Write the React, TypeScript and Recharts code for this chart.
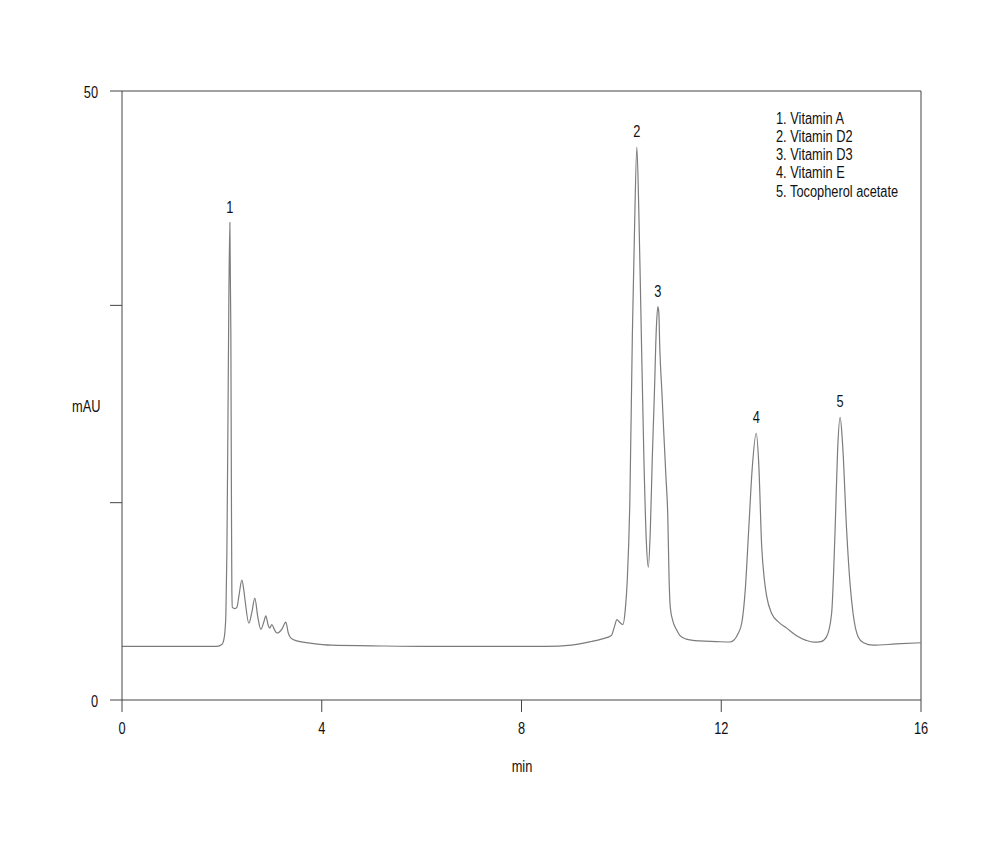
import React from "react";
import { LineChart, Line, XAxis, YAxis, ReferenceLine, ReferenceDot } from "recharts";

// retention time (min) and detector signal (mAU)
const times = [
  0, 1, 1.9, 2.0, 2.05, 2.08, 2.1, 2.12, 2.14, 2.16, 2.18, 2.19, 2.2, 2.21,
  2.26, 2.3, 2.34, 2.4, 2.44, 2.47, 2.54, 2.6, 2.66, 2.72, 2.78, 2.84, 2.88,
  2.93, 2.96, 3.0, 3.05, 3.1, 3.2, 3.28, 3.33, 3.38, 3.5, 3.8, 4.2, 5, 6, 7, 8,
  8.5, 9, 9.4, 9.6, 9.8, 9.86, 9.91, 9.96, 10.03, 10.08, 10.12, 10.17, 10.22,
  10.26, 10.31, 10.35, 10.39, 10.45, 10.5, 10.54, 10.58, 10.62, 10.66, 10.7,
  10.73, 10.75, 10.77, 10.81, 10.85, 10.89, 10.93, 10.955, 10.98, 11.03, 11.1,
  11.17, 11.3, 11.43, 11.57, 11.9, 12.17, 12.25, 12.33, 12.41, 12.48, 12.55,
  12.62, 12.7, 12.75, 12.81, 12.86, 12.91, 13.01, 13.15, 13.31, 13.5, 13.7,
  13.85, 14.0, 14.11, 14.21, 14.28, 14.33, 14.38, 14.43, 14.51, 14.58, 14.64,
  14.74, 14.85, 15.04, 15.5, 16,
];
const signal = [
  4.4, 4.4, 4.4, 4.55, 5.2, 7.0, 12, 22, 33, 39.2, 30, 18, 9, 7.6,
  7.5, 7.6, 8.5, 9.85, 9.0, 8.0, 6.3, 7.2, 8.37, 6.8, 5.8, 6.4, 6.9,
  6.1, 5.9, 6.2, 5.8, 5.5, 5.8, 6.4, 5.5, 5.1, 4.85, 4.65, 4.5, 4.45, 4.4, 4.4, 4.4,
  4.4, 4.5, 4.8, 5.0, 5.3, 6.0, 6.6, 6.4, 6.2, 7.5, 10, 16.4, 30,
  38, 45.4, 40, 32, 20, 13, 10.9, 14, 20, 25, 30.5,
  32.3, 31.8, 28.8, 25.4, 21.9, 18.5, 15, 10, 7.6, 6.5, 5.8,
  5.3, 5.0, 4.9, 4.85, 4.8, 4.76, 4.9, 5.4, 6.3, 9, 14,
  19, 21.9, 19.5, 12.6, 10, 8.5, 7.1, 6.4, 5.9, 5.3, 4.9,
  4.75, 4.8, 5.2, 7.1, 14, 20.5, 23.2, 21, 14, 9.5, 7.1,
  5.2, 4.7, 4.5, 4.6, 4.7,
];

const xTicks = [0, 4, 8, 12, 16];
const yTicks = [0, 16.2, 32.4, 50];
const yLabelled = [0, 50];

const peakNames = ["1", "2", "3", "4", "5"];
const peakTimes = [2.16, 10.31, 10.73, 12.7, 14.38];
const peakHeights = [39.2, 45.4, 32.3, 21.9, 23.2];

const legendItems = [
  "1. Vitamin A",
  "2. Vitamin D2",
  "3. Vitamin D3",
  "4. Vitamin E",
  "5. Tocopherol acetate",
];

// Arial Narrow look-alike: Liberation Sans squeezed horizontally
const font = "'Liberation Sans', Arial, sans-serif";
const squeeze = 0.8;
const axisColor = "#444";
const traceColor = "#7c7c7c";
const textColor = "#111";

const data = times.map((t, i) => ({ t, v: signal[i] }));

function NarrowText({
  x,
  y,
  anchor,
  children,
}: {
  x: number;
  y: number;
  anchor: "start" | "middle" | "end";
  children: React.ReactNode;
}) {
  return (
    <text
      transform={`translate(${x},${y}) scale(${squeeze},1)`}
      textAnchor={anchor}
      fontFamily={font}
      fontSize={16}
      fill={textColor}
    >
      {children}
    </text>
  );
}

function XTick(props: any) {
  const { x, y, payload } = props;
  return (
    <NarrowText x={x} y={y + 15} anchor="middle">
      {String(payload.value)}
    </NarrowText>
  );
}

function YTick(props: any) {
  const { x, y, payload } = props;
  if (!yLabelled.includes(payload.value)) return <g />;
  return (
    <NarrowText x={x} y={y + 7} anchor="end">
      {String(payload.value)}
    </NarrowText>
  );
}

const htmlText: React.CSSProperties = {
  position: "absolute",
  fontFamily: font,
  fontSize: 16,
  lineHeight: "18.3px",
  color: textColor,
  whiteSpace: "nowrap",
};

export default function App() {
  return (
    <div style={{ position: "relative", width: 984, height: 841 }}>
      <LineChart
        width={984}
        height={841}
        data={data}
        margin={{ top: 83, right: 71, left: 54, bottom: 69 }}
      >
        <XAxis
          dataKey="t"
          type="number"
          domain={[0, 16]}
          ticks={xTicks}
          stroke={axisColor}
          tickSize={12}
          tickMargin={7}
          height={80}
          tick={XTick}
        />
        <YAxis
          type="number"
          domain={[0, 50]}
          ticks={yTicks}
          width={60}
          stroke={axisColor}
          tickSize={12}
          tickMargin={12}
          tick={YTick}
        />
        <ReferenceLine y={50} stroke={axisColor} ifOverflow="visible" />
        <ReferenceLine x={16} stroke={axisColor} ifOverflow="visible" />
        <Line
          type="monotone"
          dataKey="v"
          stroke={traceColor}
          strokeWidth={1.2}
          dot={false}
          isAnimationActive={false}
        />
        {peakNames.map((name, i) => (
          <ReferenceDot
            key={name}
            x={peakTimes[i]}
            y={peakHeights[i]}
            r={0}
            shape={(p: any) => (
              <NarrowText x={p.cx} y={p.cy - 10} anchor="middle">
                {name}
              </NarrowText>
            )}
          />
        ))}
      </LineChart>
      <div
        style={{
          ...htmlText,
          left: 63.7,
          top: 390,
          transform: `scaleX(${squeeze})`,
          transformOrigin: "left top",
        }}
      >
        mAU
      </div>
      <div
        style={{
          ...htmlText,
          left: 513.7,
          top: 749.6,
          transform: `translateX(-50%) scaleX(${squeeze})`,
          transformOrigin: "center top",
        }}
      >
        min
      </div>
      <div
        style={{
          ...htmlText,
          left: 768,
          top: 101.5,
          transform: `scaleX(${squeeze})`,
          transformOrigin: "left top",
        }}
      >
        {legendItems.map((item) => (
          <div key={item}>{item}</div>
        ))}
      </div>
    </div>
  );
}
